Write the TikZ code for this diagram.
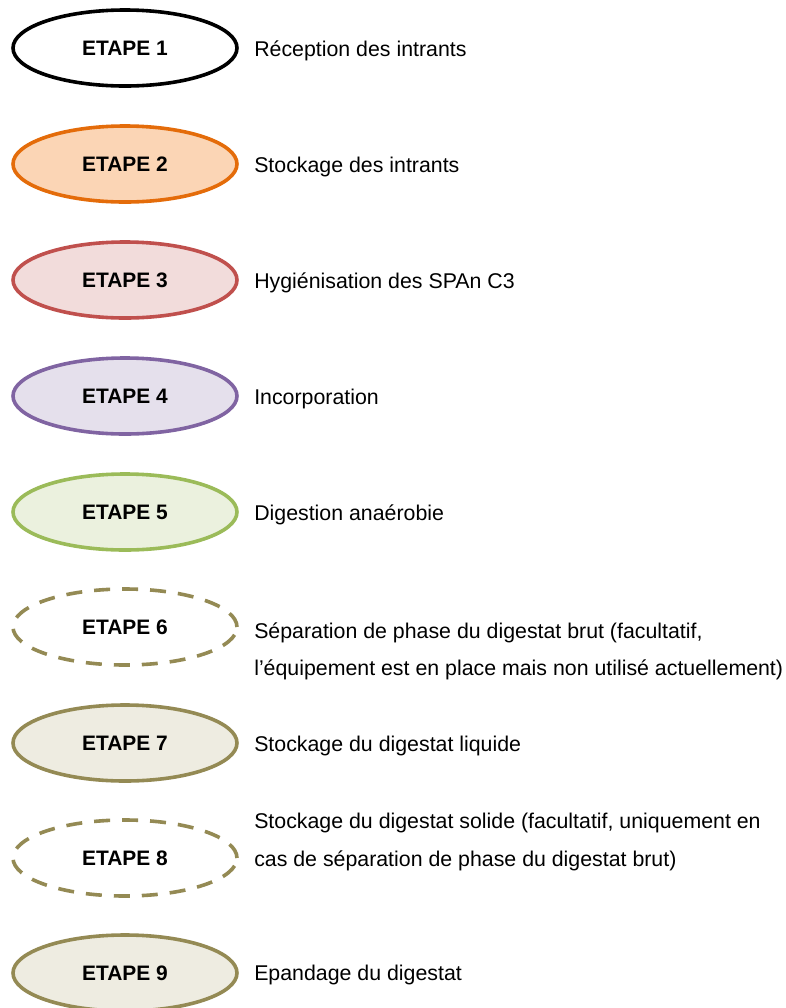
\documentclass[tikz,border=0pt]{standalone}
\usepackage{fontspec}
\setmainfont{Liberation Sans}
\usetikzlibrary{shapes.geometric, positioning}
\definecolor{orangeE}{HTML}{E46C0A}
\definecolor{orangeF}{HTML}{FBD5B5}
\definecolor{redE}{HTML}{C0504D}
\definecolor{redF}{HTML}{F2DCDB}
\definecolor{violetE}{HTML}{8064A2}
\definecolor{violetF}{HTML}{E5E0EC}
\definecolor{greenE}{HTML}{9BBB59}
\definecolor{greenF}{HTML}{EBF1DE}
\definecolor{oliveE}{HTML}{948A54}
\definecolor{oliveF}{HTML}{EEECE1}
\newcommand{\txt}{\fontsize{16}{27.8}\selectfont}
\newcommand{\txtb}{\fontsize{15.7}{27.8}\selectfont\bfseries}

\begin{document}
\begin{tikzpicture}[x=0.75pt, y=-0.75pt,
  etape/.style={ellipse, draw, line width=2.7pt, minimum width=168pt, minimum height=57pt,
    inner sep=0pt, font=\txtb},
  pointille/.style={etape, draw=oliveE, dash pattern=on 12pt off 9pt, fill=white},
  legende/.style={anchor=west, inner sep=0pt, align=left, font=\txt}]
\useasboundingbox (0,0) rectangle (786,1008);
% Les ellipses
\node[etape, draw=black, fill=white] (e1) at (125,48) {ETAPE 1};
\node[etape, draw=orangeE, fill=orangeF] (e2) at (125,164) {ETAPE 2};
\node[etape, draw=redE, fill=redF] (e3) at (125,280) {ETAPE 3};
\node[etape, draw=violetE, fill=violetF] (e4) at (125,396) {ETAPE 4};
\node[etape, draw=greenE, fill=greenF] (e5) at (125,512) {ETAPE 5};
\node[pointille] (e6) at (125,627) {ETAPE 6};
\node[etape, draw=oliveE, fill=oliveF] (e7) at (125,743) {ETAPE 7};
\node[pointille] (e8) at (125,858) {ETAPE 8};
\node[etape, draw=oliveE, fill=oliveF] (e9) at (125,973) {ETAPE 9};

% Les textes
\node[legende] (l1) at (254,51) {Réception des intrants};
\node[legende] (l2) at (254,167) {Stockage des intrants};
\node[legende] (l3) at (254,283) {Hygiénisation des SPAn C3};
\node[legende] (l4) at (254,399) {Incorporation};
\node[legende] (l5) at (254,515) {Digestion anaérobie};
\node[legende] (l6) at (254,651) {Séparation de phase du digestat brut (facultatif,\\l’équipement est en place mais non utilisé actuellement)};
\node[legende] (l7) at (254,746) {Stockage du digestat liquide};
\node[legende] (l8) at (254,842) {Stockage du digestat solide (facultatif, uniquement en\\cas de séparation de phase du digestat brut)};
\node[legende] (l9) at (254,975) {Epandage du digestat};
\end{tikzpicture}
\end{document}
